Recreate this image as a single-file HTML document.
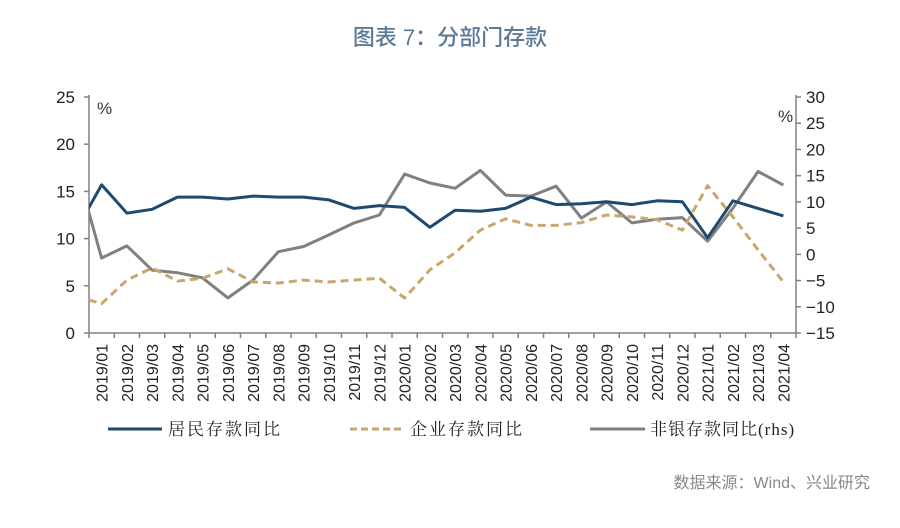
<!DOCTYPE html>
<html><head><meta charset="utf-8"><style>
body{margin:0;background:#fff;width:900px;height:523px;overflow:hidden;font-family:"Liberation Sans","Noto Sans CJK SC",sans-serif}
</style></head><body>
<svg width="900" height="523" id="chart">
<text x="450" y="45" text-anchor="middle" font-size="22" font-weight="500" fill="#5b7a96" font-family="Liberation Sans,Noto Sans CJK SC,sans-serif">图表 7：分部门存款</text>
<defs><clipPath id="plot"><rect x="89" y="90" width="707" height="250"/></clipPath></defs>
<g id="axes"></g>
<g id="series" clip-path="url(#plot)"></g>
<text x="97" y="114" font-size="17" fill="#333">%</text>
<text x="778" y="122" font-size="17" fill="#333">%</text>
<g font-family="Liberation Serif,Noto Serif CJK SC,serif" font-size="17" fill="#222">
<line x1="108" y1="429" x2="162" y2="429" stroke="#1d4a6e" stroke-width="3"/>
<text x="168" y="435" letter-spacing="2">居民存款同比</text>
<line x1="350" y1="429" x2="405" y2="429" stroke="#c9a66b" stroke-width="3" stroke-dasharray="7,4"/>
<text x="410" y="435" letter-spacing="2">企业存款同比</text>
<line x1="590" y1="429" x2="645" y2="429" stroke="#808080" stroke-width="3"/>
<text x="650" y="435" letter-spacing="1">非银存款同比(rhs)</text>
</g>
<text x="870" y="488" text-anchor="end" font-size="16" fill="#888">数据来源：Wind、兴业研究</text>
</svg>
<script>
const categories=["2019/01","2019/02","2019/03","2019/04","2019/05","2019/06","2019/07","2019/08","2019/09","2019/10","2019/11","2019/12","2020/01","2020/02","2020/03","2020/04","2020/05","2020/06","2020/07","2020/08","2020/09","2020/10","2020/11","2020/12","2021/01","2021/02","2021/03","2021/04"];
// first value is 2018/12 (clipped at axis)
const household=[10.9,15.7,12.7,13.1,14.4,14.4,14.2,14.5,14.4,14.4,14.1,13.2,13.5,13.3,11.2,13.0,12.9,13.2,14.4,13.6,13.7,13.9,13.6,14.0,13.9,10.1,14.0,13.2,12.4];
const corporate=[3.9,3.1,5.6,6.9,5.5,5.8,6.8,5.4,5.3,5.6,5.4,5.6,5.8,3.7,6.7,8.5,10.9,12.1,11.4,11.4,11.7,12.5,12.3,12.0,10.9,15.6,12.3,8.8,5.4];
const nonbank=[16.5,-0.7,1.6,-3.0,-3.5,-4.5,-8.3,-4.9,0.5,1.5,3.7,6.0,7.5,15.3,13.6,12.6,16.0,11.3,11.1,13.0,6.9,10.0,6.0,6.7,7.0,2.5,8.8,15.8,13.2];
const leftTicks=[0,5,10,15,20,25];
const rightTicks=[-15,-10,-5,0,5,10,15,20,25,30];
const NS="http://www.w3.org/2000/svg";
const X0=89,X1=796,YT=97,YB=333;
const step=(X1-X0)/categories.length;
const xPos=i=>X0+step*(i+0.5);
const yL=v=>YB-(v-0)/(25-0)*(YB-YT);
const yR=v=>YB-(v+15)/(45)*(YB-YT);
const axes=document.getElementById('axes'),ser=document.getElementById('series');
function mk(tag,attrs,parent){const e=document.createElementNS(NS,tag);for(const k in attrs)e.setAttribute(k,attrs[k]);parent.appendChild(e);return e;}
let e=mk('line',{x1:X0,y1:YT-2,x2:X0,y2:YB,stroke:'#808080','stroke-width':1.5},axes);


e=mk('line',{x1:X1,y1:YT-2,x2:X1,y2:YB,stroke:'#808080','stroke-width':1.5},axes);


e=mk('line',{x1:X0,y1:YB,x2:X1,y2:YB,stroke:'#808080','stroke-width':1.5},axes);


leftTicks.forEach(v=>{const y=yL(v);
 mk('line',{x1:X0-5,y1:y,x2:X0,y2:y,stroke:'#808080','stroke-width':1.5},axes);
 const t=mk('text',{x:X0-14,y:y+6,'text-anchor':'end','font-size':17,fill:'#222'},axes);t.textContent=v;
 
 });
rightTicks.forEach(v=>{const y=yR(v);
 mk('line',{x1:X1,y1:y,x2:X1+5,y2:y,stroke:'#808080','stroke-width':1.5},axes);
 const t=mk('text',{x:X1+10,y:y+6,'font-size':17,fill:'#222'},axes);t.textContent=v<0?'\u2212'+(-v):v;
 
 });
for(let i=0;i<=categories.length;i++){const x=X0+step*i;mk('line',{x1:x,y1:YB,x2:x,y2:YB+5,stroke:'#808080','stroke-width':1.5},axes);}
categories.forEach((c,i)=>{const x=xPos(i)+6;
 const t=mk('text',{x:x,y:344,'text-anchor':'end','font-size':16,fill:'#222',transform:`rotate(-90 ${x} 344)`},axes);t.textContent=c;
 
 });
function line(data,yf,color,dash,name){
 const pts=data.map((v,j)=>xPos(j-1).toFixed(1)+','+yf(v).toFixed(1)).join(' ');
 const p=mk('polyline',{points:pts,fill:'none',stroke:color,'stroke-width':3,'stroke-linejoin':'round'},ser);
 if(dash)p.setAttribute('stroke-dasharray',dash);
 
 }
line(nonbank,yR,'#808080',null,'nonbank-line');
line(corporate,yL,'#c9a66b','8,5','corporate-line');
line(household,yL,'#1d4a6e',null,'household-line');
</script>
</body></html>
